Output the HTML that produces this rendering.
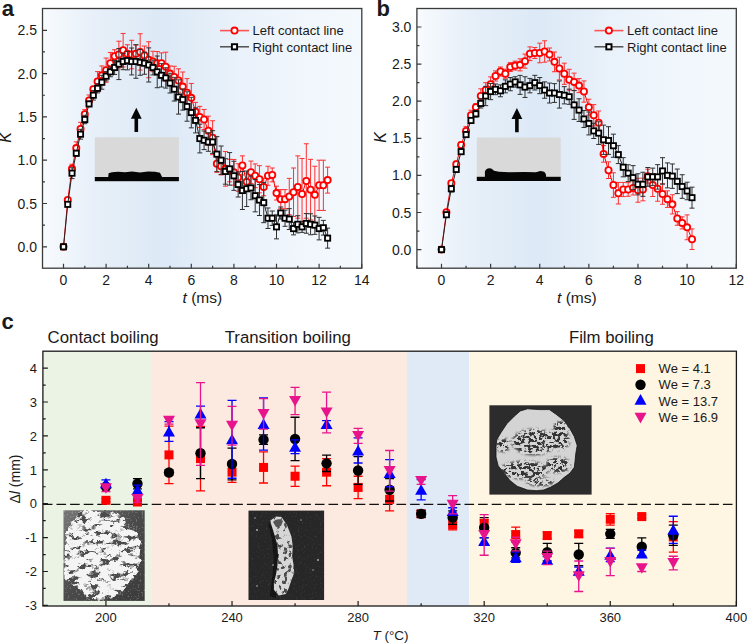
<!DOCTYPE html>
<html><head><meta charset="utf-8"><style>html,body{margin:0;padding:0;background:#fff;width:747px;height:643px;overflow:hidden}</style></head>
<body>
<svg width="747" height="643" viewBox="0 0 747 643" style="display:block;font-family:'Liberation Sans',sans-serif" fill="#1a1a1a">
<rect width="747" height="643" fill="#fff"/>
<defs><linearGradient id="ga" x1="42.5" y1="0" x2="361.8" y2="0" gradientUnits="userSpaceOnUse"><stop offset="0" stop-color="#f8fbfe"/><stop offset="0.15" stop-color="#e8f0f9"/><stop offset="0.38" stop-color="#dce9f6"/><stop offset="0.6" stop-color="#e9f1fa"/><stop offset="0.8" stop-color="#f0f6fc"/><stop offset="1" stop-color="#f4f9fd"/></linearGradient></defs>
<rect x="42.5" y="8.5" width="319.3" height="259.7" fill="url(#ga)"/>
<rect x="94.8" y="137.3" width="84.10000000000001" height="43.89999999999998" fill="#d9d9d9"/>
<rect x="94.8" y="177.0" width="84.10000000000001" height="4.2" fill="#050505"/>
<path d="M108.2 177.5 L108.6 173.2 L112 172.2 L118 171.8 L125 172.3 L132 171.6 L140 172.4 L148 171.5 L155 171.8 L160 172.8 L162.3 177.5Z" fill="#050505"/>
<path d="M136.3 107.7L141.70000000000002 118.7H138.10000000000002V132.0H134.5V118.7H130.9Z" fill="#050505"/>
<path d="M72.02 164.29V173.43M69.52 164.29h5M69.52 173.43h5M76.28 141.84V154.31M73.78 141.84h5M73.78 154.31h5M80.54 122.34V135.71M78.04 122.34h5M78.04 135.71h5M84.80 109.65V118.95M82.30 109.65h5M82.30 118.95h5M89.06 94.97V105.92M86.56 94.97h5M86.56 105.92h5M93.32 86.33V92.05M90.82 86.33h5M90.82 92.05h5M97.58 71.60V91.19M95.08 71.60h5M95.08 91.19h5M101.84 65.96V84.71M99.34 65.96h5M99.34 84.71h5M106.10 58.07V82.21M103.60 58.07h5M103.60 82.21h5M110.36 52.47V73.94M107.86 52.47h5M107.86 73.94h5M114.62 49.73V62.83M112.12 49.73h5M112.12 62.83h5M118.88 41.21V67.89M116.38 41.21h5M116.38 67.89h5M123.14 33.45V66.98M120.64 33.45h5M120.64 66.98h5M127.40 44.75V62.62M124.90 44.75h5M124.90 62.62h5M131.66 40.29V68.81M129.16 40.29h5M129.16 68.81h5M135.92 45.02V62.34M133.42 45.02h5M133.42 62.34h5M140.18 33.76V70.14M137.68 33.76h5M137.68 70.14h5M144.44 46.04V64.79M141.94 46.04h5M141.94 64.79h5M148.70 41.77V77.72M146.20 41.77h5M146.20 77.72h5M152.96 51.25V71.70M150.46 51.25h5M150.46 71.70h5M157.22 51.55V74.87M154.72 51.55h5M154.72 74.87h5M161.48 52.89V73.52M158.98 52.89h5M158.98 73.52h5M165.74 52.20V81.15M163.24 52.20h5M163.24 81.15h5M170.00 65.97V81.23M167.50 65.97h5M167.50 81.23h5M174.26 66.25V87.88M171.76 66.25h5M171.76 87.88h5M178.52 68.84V92.21M176.02 68.84h5M176.02 92.21h5M182.78 72.01V101.17M180.28 72.01h5M180.28 101.17h5M187.04 78.63V106.67M184.54 78.63h5M184.54 106.67h5M191.30 83.44V112.26M188.80 83.44h5M188.80 112.26h5M195.56 102.36V121.04M193.06 102.36h5M193.06 121.04h5M199.82 106.38V127.42M197.32 106.38h5M197.32 127.42h5M204.08 109.46V129.53M201.58 109.46h5M201.58 129.53h5M208.34 116.17V145.34M205.84 116.17h5M205.84 145.34h5M212.60 120.73V154.64M210.10 120.73h5M210.10 154.64h5M216.86 155.00V172.32M214.36 155.00h5M214.36 172.32h5M221.12 157.60V174.92M218.62 157.60h5M218.62 174.92h5M225.38 151.54V186.18M222.88 151.54h5M222.88 186.18h5M229.64 159.33V181.85M227.14 159.33h5M227.14 181.85h5M233.90 159.46V185.18M231.40 159.46h5M231.40 185.18h5M238.16 163.76V191.28M235.66 163.76h5M235.66 191.28h5M242.42 155.87V174.92M239.92 155.87h5M239.92 174.92h5M246.68 173.15V190.55M244.18 173.15h5M244.18 190.55h5M250.94 161.07V183.58M248.44 161.07h5M248.44 183.58h5M255.20 163.93V187.65M252.70 163.93h5M252.70 187.65h5M259.46 165.69V192.82M256.96 165.69h5M256.96 192.82h5M263.72 178.39V195.71M261.22 178.39h5M261.22 195.71h5M267.98 166.26V185.31M265.48 166.26h5M265.48 185.31h5M272.24 167.99V181.85M269.74 167.99h5M269.74 181.85h5M276.50 186.18V200.04M274.00 186.18h5M274.00 200.04h5M280.76 189.64V208.70M278.26 189.64h5M278.26 208.70h5M285.02 189.64V208.70M282.52 189.64h5M282.52 208.70h5M289.28 178.39V214.76M286.78 178.39h5M286.78 214.76h5M293.54 167.99V216.49M291.04 167.99h5M291.04 216.49h5M297.80 155.87V218.22M295.30 155.87h5M295.30 218.22h5M302.06 158.47V229.48M299.56 158.47h5M299.56 229.48h5M306.32 143.75V218.22M303.82 143.75h5M303.82 218.22h5M310.58 159.33V219.95M308.08 159.33h5M308.08 219.95h5M314.84 166.26V223.42M312.34 166.26h5M312.34 223.42h5M319.10 160.20V210.43M316.60 160.20h5M316.60 210.43h5M323.36 160.20V210.43M320.86 160.20h5M320.86 210.43h5M327.62 167.13V193.11M325.12 167.13h5M325.12 193.11h5" stroke="#ff3030" stroke-width="1" fill="none"/>
<polyline points="63.50,246.80 67.76,200.04 72.02,168.86 76.28,148.08 80.54,129.02 84.80,114.30 89.06,100.45 93.32,89.19 97.58,81.39 101.84,75.33 106.10,70.14 110.36,63.21 114.62,56.28 118.88,54.55 123.14,50.22 127.40,53.68 131.66,54.55 135.92,53.68 140.18,51.95 144.44,55.41 148.70,59.74 152.96,61.48 157.22,63.21 161.48,63.21 165.74,66.67 170.00,73.60 174.26,77.06 178.52,80.53 182.78,86.59 187.04,92.65 191.30,97.85 195.56,111.70 199.82,116.90 204.08,119.50 208.34,130.76 212.60,137.68 216.86,163.66 221.12,166.26 225.38,168.86 229.64,170.59 233.90,172.32 238.16,177.52 242.42,165.40 246.68,181.85 250.94,172.32 255.20,175.79 259.46,179.25 263.72,187.05 267.98,175.79 272.24,174.92 276.50,193.11 280.76,199.17 285.02,199.17 289.28,196.57 293.54,192.24 297.80,187.05 302.06,193.97 306.32,180.98 310.58,189.64 314.84,194.84 319.10,185.31 323.36,185.31 327.62,180.12" fill="none" stroke="#ff0000" stroke-width="1"/>
<circle cx="63.50" cy="246.80" r="3.1" fill="#fff" stroke="#ff0000" stroke-width="1.8"/>
<circle cx="67.76" cy="200.04" r="3.1" fill="#fff" stroke="#ff0000" stroke-width="1.8"/>
<circle cx="72.02" cy="168.86" r="3.1" fill="#fff" stroke="#ff0000" stroke-width="1.8"/>
<circle cx="76.28" cy="148.08" r="3.1" fill="#fff" stroke="#ff0000" stroke-width="1.8"/>
<circle cx="80.54" cy="129.02" r="3.1" fill="#fff" stroke="#ff0000" stroke-width="1.8"/>
<circle cx="84.80" cy="114.30" r="3.1" fill="#fff" stroke="#ff0000" stroke-width="1.8"/>
<circle cx="89.06" cy="100.45" r="3.1" fill="#fff" stroke="#ff0000" stroke-width="1.8"/>
<circle cx="93.32" cy="89.19" r="3.1" fill="#fff" stroke="#ff0000" stroke-width="1.8"/>
<circle cx="97.58" cy="81.39" r="3.1" fill="#fff" stroke="#ff0000" stroke-width="1.8"/>
<circle cx="101.84" cy="75.33" r="3.1" fill="#fff" stroke="#ff0000" stroke-width="1.8"/>
<circle cx="106.10" cy="70.14" r="3.1" fill="#fff" stroke="#ff0000" stroke-width="1.8"/>
<circle cx="110.36" cy="63.21" r="3.1" fill="#fff" stroke="#ff0000" stroke-width="1.8"/>
<circle cx="114.62" cy="56.28" r="3.1" fill="#fff" stroke="#ff0000" stroke-width="1.8"/>
<circle cx="118.88" cy="54.55" r="3.1" fill="#fff" stroke="#ff0000" stroke-width="1.8"/>
<circle cx="123.14" cy="50.22" r="3.1" fill="#fff" stroke="#ff0000" stroke-width="1.8"/>
<circle cx="127.40" cy="53.68" r="3.1" fill="#fff" stroke="#ff0000" stroke-width="1.8"/>
<circle cx="131.66" cy="54.55" r="3.1" fill="#fff" stroke="#ff0000" stroke-width="1.8"/>
<circle cx="135.92" cy="53.68" r="3.1" fill="#fff" stroke="#ff0000" stroke-width="1.8"/>
<circle cx="140.18" cy="51.95" r="3.1" fill="#fff" stroke="#ff0000" stroke-width="1.8"/>
<circle cx="144.44" cy="55.41" r="3.1" fill="#fff" stroke="#ff0000" stroke-width="1.8"/>
<circle cx="148.70" cy="59.74" r="3.1" fill="#fff" stroke="#ff0000" stroke-width="1.8"/>
<circle cx="152.96" cy="61.48" r="3.1" fill="#fff" stroke="#ff0000" stroke-width="1.8"/>
<circle cx="157.22" cy="63.21" r="3.1" fill="#fff" stroke="#ff0000" stroke-width="1.8"/>
<circle cx="161.48" cy="63.21" r="3.1" fill="#fff" stroke="#ff0000" stroke-width="1.8"/>
<circle cx="165.74" cy="66.67" r="3.1" fill="#fff" stroke="#ff0000" stroke-width="1.8"/>
<circle cx="170.00" cy="73.60" r="3.1" fill="#fff" stroke="#ff0000" stroke-width="1.8"/>
<circle cx="174.26" cy="77.06" r="3.1" fill="#fff" stroke="#ff0000" stroke-width="1.8"/>
<circle cx="178.52" cy="80.53" r="3.1" fill="#fff" stroke="#ff0000" stroke-width="1.8"/>
<circle cx="182.78" cy="86.59" r="3.1" fill="#fff" stroke="#ff0000" stroke-width="1.8"/>
<circle cx="187.04" cy="92.65" r="3.1" fill="#fff" stroke="#ff0000" stroke-width="1.8"/>
<circle cx="191.30" cy="97.85" r="3.1" fill="#fff" stroke="#ff0000" stroke-width="1.8"/>
<circle cx="195.56" cy="111.70" r="3.1" fill="#fff" stroke="#ff0000" stroke-width="1.8"/>
<circle cx="199.82" cy="116.90" r="3.1" fill="#fff" stroke="#ff0000" stroke-width="1.8"/>
<circle cx="204.08" cy="119.50" r="3.1" fill="#fff" stroke="#ff0000" stroke-width="1.8"/>
<circle cx="208.34" cy="130.76" r="3.1" fill="#fff" stroke="#ff0000" stroke-width="1.8"/>
<circle cx="212.60" cy="137.68" r="3.1" fill="#fff" stroke="#ff0000" stroke-width="1.8"/>
<circle cx="216.86" cy="163.66" r="3.1" fill="#fff" stroke="#ff0000" stroke-width="1.8"/>
<circle cx="221.12" cy="166.26" r="3.1" fill="#fff" stroke="#ff0000" stroke-width="1.8"/>
<circle cx="225.38" cy="168.86" r="3.1" fill="#fff" stroke="#ff0000" stroke-width="1.8"/>
<circle cx="229.64" cy="170.59" r="3.1" fill="#fff" stroke="#ff0000" stroke-width="1.8"/>
<circle cx="233.90" cy="172.32" r="3.1" fill="#fff" stroke="#ff0000" stroke-width="1.8"/>
<circle cx="238.16" cy="177.52" r="3.1" fill="#fff" stroke="#ff0000" stroke-width="1.8"/>
<circle cx="242.42" cy="165.40" r="3.1" fill="#fff" stroke="#ff0000" stroke-width="1.8"/>
<circle cx="246.68" cy="181.85" r="3.1" fill="#fff" stroke="#ff0000" stroke-width="1.8"/>
<circle cx="250.94" cy="172.32" r="3.1" fill="#fff" stroke="#ff0000" stroke-width="1.8"/>
<circle cx="255.20" cy="175.79" r="3.1" fill="#fff" stroke="#ff0000" stroke-width="1.8"/>
<circle cx="259.46" cy="179.25" r="3.1" fill="#fff" stroke="#ff0000" stroke-width="1.8"/>
<circle cx="263.72" cy="187.05" r="3.1" fill="#fff" stroke="#ff0000" stroke-width="1.8"/>
<circle cx="267.98" cy="175.79" r="3.1" fill="#fff" stroke="#ff0000" stroke-width="1.8"/>
<circle cx="272.24" cy="174.92" r="3.1" fill="#fff" stroke="#ff0000" stroke-width="1.8"/>
<circle cx="276.50" cy="193.11" r="3.1" fill="#fff" stroke="#ff0000" stroke-width="1.8"/>
<circle cx="280.76" cy="199.17" r="3.1" fill="#fff" stroke="#ff0000" stroke-width="1.8"/>
<circle cx="285.02" cy="199.17" r="3.1" fill="#fff" stroke="#ff0000" stroke-width="1.8"/>
<circle cx="289.28" cy="196.57" r="3.1" fill="#fff" stroke="#ff0000" stroke-width="1.8"/>
<circle cx="293.54" cy="192.24" r="3.1" fill="#fff" stroke="#ff0000" stroke-width="1.8"/>
<circle cx="297.80" cy="187.05" r="3.1" fill="#fff" stroke="#ff0000" stroke-width="1.8"/>
<circle cx="302.06" cy="193.97" r="3.1" fill="#fff" stroke="#ff0000" stroke-width="1.8"/>
<circle cx="306.32" cy="180.98" r="3.1" fill="#fff" stroke="#ff0000" stroke-width="1.8"/>
<circle cx="310.58" cy="189.64" r="3.1" fill="#fff" stroke="#ff0000" stroke-width="1.8"/>
<circle cx="314.84" cy="194.84" r="3.1" fill="#fff" stroke="#ff0000" stroke-width="1.8"/>
<circle cx="319.10" cy="185.31" r="3.1" fill="#fff" stroke="#ff0000" stroke-width="1.8"/>
<circle cx="323.36" cy="185.31" r="3.1" fill="#fff" stroke="#ff0000" stroke-width="1.8"/>
<circle cx="327.62" cy="180.12" r="3.1" fill="#fff" stroke="#ff0000" stroke-width="1.8"/>
<path d="M72.02 167.77V178.61M69.52 167.77h5M69.52 178.61h5M76.28 150.36V156.18M73.78 150.36h5M73.78 156.18h5M80.54 129.30V139.14M78.04 129.30h5M78.04 139.14h5M84.80 115.32V123.68M82.30 115.32h5M82.30 123.68h5M89.06 101.06V106.76M86.56 101.06h5M86.56 106.76h5M93.32 90.45V100.05M90.82 90.45h5M90.82 100.05h5M97.58 83.76V92.88M95.08 83.76h5M95.08 92.88h5M101.84 75.30V89.22M99.34 75.30h5M99.34 89.22h5M106.10 71.44V80.95M103.60 71.44h5M103.60 80.95h5M110.36 66.99V76.75M107.86 66.99h5M107.86 76.75h5M114.62 60.63V74.44M112.12 60.63h5M112.12 74.44h5M118.88 48.55V79.59M116.38 48.55h5M116.38 79.59h5M123.14 53.26V69.69M120.64 53.26h5M120.64 69.69h5M127.40 51.36V69.86M124.90 51.36h5M124.90 69.86h5M131.66 48.03V74.92M129.16 48.03h5M129.16 74.92h5M135.92 44.70V78.25M133.42 44.70h5M133.42 78.25h5M140.18 49.42V75.27M137.68 49.42h5M137.68 75.27h5M144.44 52.16V74.26M141.94 52.16h5M141.94 74.26h5M148.70 47.87V82.01M146.20 47.87h5M146.20 82.01h5M152.96 60.13V74.95M150.46 60.13h5M150.46 74.95h5M157.22 56.02V87.72M154.72 56.02h5M154.72 87.72h5M161.48 63.66V87.00M158.98 63.66h5M158.98 87.00h5M165.74 67.77V88.09M163.24 67.77h5M163.24 88.09h5M170.00 73.24V93.01M167.50 73.24h5M167.50 93.01h5M174.26 77.32V101.05M171.76 77.32h5M171.76 101.05h5M178.52 79.84V114.12M176.02 79.84h5M176.02 114.12h5M182.78 89.04V110.12M180.28 89.04h5M180.28 110.12h5M187.04 91.80V121.21M184.54 91.80h5M184.54 121.21h5M191.30 97.27V127.87M188.80 97.27h5M188.80 127.87h5M195.56 107.83V132.89M193.06 107.83h5M193.06 132.89h5M199.82 124.20V152.90M197.32 124.20h5M197.32 152.90h5M204.08 130.97V149.59M201.58 130.97h5M201.58 149.59h5M208.34 132.73V151.29M205.84 132.73h5M205.84 151.29h5M212.60 130.68V153.35M210.10 130.68h5M210.10 153.35h5M216.86 136.64V171.64M214.36 136.64h5M214.36 171.64h5M221.12 145.99V174.41M218.62 145.99h5M218.62 174.41h5M225.38 158.72V184.20M222.88 158.72h5M222.88 184.20h5M229.64 152.59V185.13M227.14 152.59h5M227.14 185.13h5M233.90 161.24V190.33M231.40 161.24h5M231.40 190.33h5M238.16 171.89V197.00M235.66 171.89h5M235.66 197.00h5M242.42 171.53V209.49M239.92 171.53h5M239.92 209.49h5M246.68 171.04V206.52M244.18 171.04h5M244.18 206.52h5M250.94 176.08V199.74M248.44 176.08h5M248.44 199.74h5M255.20 179.58V211.83M252.70 179.58h5M252.70 211.83h5M259.46 184.55V215.52M256.96 184.55h5M256.96 215.52h5M263.72 182.61V222.66M261.22 182.61h5M261.22 222.66h5M267.98 207.97V228.47M265.48 207.97h5M265.48 228.47h5M272.24 211.03V225.41M269.74 211.03h5M269.74 225.41h5M276.50 214.90V238.87M274.00 214.90h5M274.00 238.87h5M280.76 207.01V219.04M278.26 207.01h5M278.26 219.04h5M285.02 210.13V226.31M282.52 210.13h5M282.52 226.31h5M289.28 208.65V229.53M286.78 208.65h5M286.78 229.53h5M293.54 222.37V234.86M291.04 222.37h5M291.04 234.86h5M297.80 215.70V232.87M295.30 215.70h5M295.30 232.87h5M302.06 221.41V232.35M299.56 221.41h5M299.56 232.35h5M306.32 213.59V233.24M303.82 213.59h5M303.82 233.24h5M310.58 213.79V234.78M308.08 213.79h5M308.08 234.78h5M314.84 215.98V234.32M312.34 215.98h5M312.34 234.32h5M319.10 217.35V239.88M316.60 217.35h5M316.60 239.88h5M323.36 220.38V235.12M320.86 220.38h5M320.86 235.12h5M327.62 228.13V248.15M325.12 228.13h5M325.12 248.15h5" stroke="#303030" stroke-width="1" fill="none"/>
<polyline points="63.50,246.80 67.76,204.37 72.02,173.19 76.28,153.27 80.54,134.22 84.80,119.50 89.06,103.91 93.32,95.25 97.58,88.32 101.84,82.26 106.10,76.20 110.36,71.87 114.62,67.54 118.88,64.07 123.14,61.48 127.40,60.61 131.66,61.48 135.92,61.48 140.18,62.34 144.44,63.21 148.70,64.94 152.96,67.54 157.22,71.87 161.48,75.33 165.74,77.93 170.00,83.13 174.26,89.19 178.52,96.98 182.78,99.58 187.04,106.51 191.30,112.57 195.56,120.36 199.82,138.55 204.08,140.28 208.34,142.01 212.60,142.01 216.86,154.14 221.12,160.20 225.38,171.46 229.64,168.86 233.90,175.79 238.16,184.45 242.42,190.51 246.68,188.78 250.94,187.91 255.20,195.71 259.46,200.04 263.72,202.63 267.98,218.22 272.24,218.22 276.50,226.88 280.76,213.03 285.02,218.22 289.28,219.09 293.54,228.61 297.80,224.28 302.06,226.88 306.32,223.42 310.58,224.28 314.84,225.15 319.10,228.61 323.36,227.75 327.62,238.14" fill="none" stroke="#222" stroke-width="1"/>
<rect x="60.90" y="244.20" width="5.2" height="5.2" fill="#fff" stroke="#000" stroke-width="1.8"/>
<rect x="65.16" y="201.77" width="5.2" height="5.2" fill="#fff" stroke="#000" stroke-width="1.8"/>
<rect x="69.42" y="170.59" width="5.2" height="5.2" fill="#fff" stroke="#000" stroke-width="1.8"/>
<rect x="73.68" y="150.67" width="5.2" height="5.2" fill="#fff" stroke="#000" stroke-width="1.8"/>
<rect x="77.94" y="131.62" width="5.2" height="5.2" fill="#fff" stroke="#000" stroke-width="1.8"/>
<rect x="82.20" y="116.90" width="5.2" height="5.2" fill="#fff" stroke="#000" stroke-width="1.8"/>
<rect x="86.46" y="101.31" width="5.2" height="5.2" fill="#fff" stroke="#000" stroke-width="1.8"/>
<rect x="90.72" y="92.65" width="5.2" height="5.2" fill="#fff" stroke="#000" stroke-width="1.8"/>
<rect x="94.98" y="85.72" width="5.2" height="5.2" fill="#fff" stroke="#000" stroke-width="1.8"/>
<rect x="99.24" y="79.66" width="5.2" height="5.2" fill="#fff" stroke="#000" stroke-width="1.8"/>
<rect x="103.50" y="73.60" width="5.2" height="5.2" fill="#fff" stroke="#000" stroke-width="1.8"/>
<rect x="107.76" y="69.27" width="5.2" height="5.2" fill="#fff" stroke="#000" stroke-width="1.8"/>
<rect x="112.02" y="64.94" width="5.2" height="5.2" fill="#fff" stroke="#000" stroke-width="1.8"/>
<rect x="116.28" y="61.47" width="5.2" height="5.2" fill="#fff" stroke="#000" stroke-width="1.8"/>
<rect x="120.54" y="58.88" width="5.2" height="5.2" fill="#fff" stroke="#000" stroke-width="1.8"/>
<rect x="124.80" y="58.01" width="5.2" height="5.2" fill="#fff" stroke="#000" stroke-width="1.8"/>
<rect x="129.06" y="58.88" width="5.2" height="5.2" fill="#fff" stroke="#000" stroke-width="1.8"/>
<rect x="133.32" y="58.88" width="5.2" height="5.2" fill="#fff" stroke="#000" stroke-width="1.8"/>
<rect x="137.58" y="59.74" width="5.2" height="5.2" fill="#fff" stroke="#000" stroke-width="1.8"/>
<rect x="141.84" y="60.61" width="5.2" height="5.2" fill="#fff" stroke="#000" stroke-width="1.8"/>
<rect x="146.10" y="62.34" width="5.2" height="5.2" fill="#fff" stroke="#000" stroke-width="1.8"/>
<rect x="150.36" y="64.94" width="5.2" height="5.2" fill="#fff" stroke="#000" stroke-width="1.8"/>
<rect x="154.62" y="69.27" width="5.2" height="5.2" fill="#fff" stroke="#000" stroke-width="1.8"/>
<rect x="158.88" y="72.73" width="5.2" height="5.2" fill="#fff" stroke="#000" stroke-width="1.8"/>
<rect x="163.14" y="75.33" width="5.2" height="5.2" fill="#fff" stroke="#000" stroke-width="1.8"/>
<rect x="167.40" y="80.53" width="5.2" height="5.2" fill="#fff" stroke="#000" stroke-width="1.8"/>
<rect x="171.66" y="86.59" width="5.2" height="5.2" fill="#fff" stroke="#000" stroke-width="1.8"/>
<rect x="175.92" y="94.38" width="5.2" height="5.2" fill="#fff" stroke="#000" stroke-width="1.8"/>
<rect x="180.18" y="96.98" width="5.2" height="5.2" fill="#fff" stroke="#000" stroke-width="1.8"/>
<rect x="184.44" y="103.91" width="5.2" height="5.2" fill="#fff" stroke="#000" stroke-width="1.8"/>
<rect x="188.70" y="109.97" width="5.2" height="5.2" fill="#fff" stroke="#000" stroke-width="1.8"/>
<rect x="192.96" y="117.76" width="5.2" height="5.2" fill="#fff" stroke="#000" stroke-width="1.8"/>
<rect x="197.22" y="135.95" width="5.2" height="5.2" fill="#fff" stroke="#000" stroke-width="1.8"/>
<rect x="201.48" y="137.68" width="5.2" height="5.2" fill="#fff" stroke="#000" stroke-width="1.8"/>
<rect x="205.74" y="139.41" width="5.2" height="5.2" fill="#fff" stroke="#000" stroke-width="1.8"/>
<rect x="210.00" y="139.41" width="5.2" height="5.2" fill="#fff" stroke="#000" stroke-width="1.8"/>
<rect x="214.26" y="151.54" width="5.2" height="5.2" fill="#fff" stroke="#000" stroke-width="1.8"/>
<rect x="218.52" y="157.60" width="5.2" height="5.2" fill="#fff" stroke="#000" stroke-width="1.8"/>
<rect x="222.78" y="168.86" width="5.2" height="5.2" fill="#fff" stroke="#000" stroke-width="1.8"/>
<rect x="227.04" y="166.26" width="5.2" height="5.2" fill="#fff" stroke="#000" stroke-width="1.8"/>
<rect x="231.30" y="173.19" width="5.2" height="5.2" fill="#fff" stroke="#000" stroke-width="1.8"/>
<rect x="235.56" y="181.85" width="5.2" height="5.2" fill="#fff" stroke="#000" stroke-width="1.8"/>
<rect x="239.82" y="187.91" width="5.2" height="5.2" fill="#fff" stroke="#000" stroke-width="1.8"/>
<rect x="244.08" y="186.18" width="5.2" height="5.2" fill="#fff" stroke="#000" stroke-width="1.8"/>
<rect x="248.34" y="185.31" width="5.2" height="5.2" fill="#fff" stroke="#000" stroke-width="1.8"/>
<rect x="252.60" y="193.11" width="5.2" height="5.2" fill="#fff" stroke="#000" stroke-width="1.8"/>
<rect x="256.86" y="197.44" width="5.2" height="5.2" fill="#fff" stroke="#000" stroke-width="1.8"/>
<rect x="261.12" y="200.03" width="5.2" height="5.2" fill="#fff" stroke="#000" stroke-width="1.8"/>
<rect x="265.38" y="215.62" width="5.2" height="5.2" fill="#fff" stroke="#000" stroke-width="1.8"/>
<rect x="269.64" y="215.62" width="5.2" height="5.2" fill="#fff" stroke="#000" stroke-width="1.8"/>
<rect x="273.90" y="224.28" width="5.2" height="5.2" fill="#fff" stroke="#000" stroke-width="1.8"/>
<rect x="278.16" y="210.43" width="5.2" height="5.2" fill="#fff" stroke="#000" stroke-width="1.8"/>
<rect x="282.42" y="215.62" width="5.2" height="5.2" fill="#fff" stroke="#000" stroke-width="1.8"/>
<rect x="286.68" y="216.49" width="5.2" height="5.2" fill="#fff" stroke="#000" stroke-width="1.8"/>
<rect x="290.94" y="226.01" width="5.2" height="5.2" fill="#fff" stroke="#000" stroke-width="1.8"/>
<rect x="295.20" y="221.68" width="5.2" height="5.2" fill="#fff" stroke="#000" stroke-width="1.8"/>
<rect x="299.46" y="224.28" width="5.2" height="5.2" fill="#fff" stroke="#000" stroke-width="1.8"/>
<rect x="303.72" y="220.82" width="5.2" height="5.2" fill="#fff" stroke="#000" stroke-width="1.8"/>
<rect x="307.98" y="221.68" width="5.2" height="5.2" fill="#fff" stroke="#000" stroke-width="1.8"/>
<rect x="312.24" y="222.55" width="5.2" height="5.2" fill="#fff" stroke="#000" stroke-width="1.8"/>
<rect x="316.50" y="226.01" width="5.2" height="5.2" fill="#fff" stroke="#000" stroke-width="1.8"/>
<rect x="320.76" y="225.15" width="5.2" height="5.2" fill="#fff" stroke="#000" stroke-width="1.8"/>
<rect x="325.02" y="235.54" width="5.2" height="5.2" fill="#fff" stroke="#000" stroke-width="1.8"/>
<rect x="42.5" y="8.5" width="319.3" height="259.7" fill="none" stroke="#3a3a3a" stroke-width="1.3"/>
<path d="M63.50 268.2v-4.5M106.10 268.2v-4.5M148.70 268.2v-4.5M191.30 268.2v-4.5M233.90 268.2v-4.5M276.50 268.2v-4.5M319.10 268.2v-4.5M361.70 268.2v-4.5M84.80 268.2v-2.5M127.40 268.2v-2.5M170.00 268.2v-2.5M212.60 268.2v-2.5M255.20 268.2v-2.5M297.80 268.2v-2.5M340.40 268.2v-2.5M42.5 246.80h4.5M42.5 203.50h4.5M42.5 160.20h4.5M42.5 116.90h4.5M42.5 73.60h4.5M42.5 30.30h4.5M42.5 225.15h2.5M42.5 181.85h2.5M42.5 138.55h2.5M42.5 95.25h2.5M42.5 51.95h2.5" stroke="#3a3a3a" stroke-width="1.2" fill="none"/>
<text x="63.50" y="284.8" font-size="14" text-anchor="middle" >0</text>
<text x="106.10" y="284.8" font-size="14" text-anchor="middle" >2</text>
<text x="148.70" y="284.8" font-size="14" text-anchor="middle" >4</text>
<text x="191.30" y="284.8" font-size="14" text-anchor="middle" >6</text>
<text x="233.90" y="284.8" font-size="14" text-anchor="middle" >8</text>
<text x="276.50" y="284.8" font-size="14" text-anchor="middle" >10</text>
<text x="319.10" y="284.8" font-size="14" text-anchor="middle" >12</text>
<text x="361.70" y="284.8" font-size="14" text-anchor="middle" >14</text>
<text x="37.00" y="251.80" font-size="14" text-anchor="end" >0.0</text>
<text x="37.00" y="208.50" font-size="14" text-anchor="end" >0.5</text>
<text x="37.00" y="165.20" font-size="14" text-anchor="end" >1.0</text>
<text x="37.00" y="121.90" font-size="14" text-anchor="end" >1.5</text>
<text x="37.00" y="78.60" font-size="14" text-anchor="end" >2.0</text>
<text x="37.00" y="35.30" font-size="14" text-anchor="end" >2.5</text>
<line x1="220" y1="30.6" x2="249" y2="30.6" stroke="#ff5555" stroke-width="1.6"/>
<circle cx="234.5" cy="30.6" r="3.1" fill="#fff" stroke="#ff0000" stroke-width="1.8"/>
<line x1="220" y1="46.8" x2="249" y2="46.8" stroke="#444" stroke-width="1.4"/>
<rect x="231.9" y="44.199999999999996" width="5.2" height="5.2" fill="#fff" stroke="#000" stroke-width="1.9"/>
<text x="252.6" y="35.3" font-size="13" text-anchor="start" >Left contact line</text>
<text x="252.6" y="51.8" font-size="13" text-anchor="start" >Right contact line</text>
<text x="11.4" y="137.7" font-size="16" text-anchor="middle" font-style="italic" transform="rotate(-90 11.2 137.7)">K</text>
<text x="202.4" y="302.7" font-size="15.5" text-anchor="middle"><tspan font-style="italic">t</tspan> (ms)</text>
<text x="1.8" y="16" font-size="22" font-weight="bold">a</text>
<defs><linearGradient id="gb" x1="416.9" y1="0" x2="736.3" y2="0" gradientUnits="userSpaceOnUse"><stop offset="0" stop-color="#f8fbfe"/><stop offset="0.15" stop-color="#e8f0f9"/><stop offset="0.38" stop-color="#dce9f6"/><stop offset="0.6" stop-color="#e9f1fa"/><stop offset="0.8" stop-color="#f0f6fc"/><stop offset="1" stop-color="#f4f9fd"/></linearGradient></defs>
<rect x="416.9" y="8.5" width="319.4" height="259.7" fill="url(#gb)"/>
<rect x="476.8" y="137.5" width="83.90000000000003" height="43.5" fill="#d9d9d9"/>
<rect x="476.8" y="176.8" width="83.90000000000003" height="4.2" fill="#050505"/>
<path d="M484.9 177.5 L484.9 171.8 C485.5 169.5 487 168.4 489.5 168.3 C492 168.4 493 170 494 170.8 L499 171.8 L509.3 172.3 L524.1 172 L535.9 172.3 L540.3 171.1 L543.3 171.6 C545.5 172.5 546.2 174 546.2 177.5Z" fill="#050505"/>
<path d="M516.9 108L522.3 119H518.6999999999999V132.3H515.1V119H511.5Z" fill="#050505"/>
<path d="M451.32 180.88V185.50M448.82 180.88h5M448.82 185.50h5M456.24 161.21V167.33M453.74 161.21h5M453.74 167.33h5M461.15 141.98V147.97M458.65 141.98h5M458.65 147.97h5M466.06 126.60V135.16M463.56 126.60h5M463.56 135.16h5M470.97 110.23V120.36M468.47 110.23h5M468.47 120.36h5M475.88 103.58V110.69M473.38 103.58h5M473.38 110.69h5M480.80 88.82V103.19M478.30 88.82h5M478.30 103.19h5M485.71 82.69V97.45M483.21 82.69h5M483.21 97.45h5M490.62 76.88V91.39M488.12 76.88h5M488.12 91.39h5M495.53 70.91V81.03M493.03 70.91h5M493.03 81.03h5M500.44 66.99V76.05M497.94 66.99h5M497.94 76.05h5M505.36 69.19V78.30M502.86 69.19h5M502.86 78.30h5M510.27 62.63V71.51M507.77 62.63h5M507.77 71.51h5M515.18 61.12V70.05M512.68 61.12h5M512.68 70.05h5M520.09 58.82V70.87M517.59 58.82h5M517.59 70.87h5M525.00 54.08V68.18M522.50 54.08h5M522.50 68.18h5M529.92 46.88V60.54M527.42 46.88h5M527.42 60.54h5M534.83 47.48V58.46M532.33 47.48h5M532.33 58.46h5M539.74 43.16V62.78M537.24 43.16h5M537.24 62.78h5M544.65 40.80V62.17M542.15 40.80h5M542.15 62.17h5M549.56 48.01V60.89M547.06 48.01h5M547.06 60.89h5M554.48 52.02V71.73M551.98 52.02h5M551.98 71.73h5M559.39 57.22V79.89M556.89 57.22h5M556.89 79.89h5M564.30 63.17V84.33M561.80 63.17h5M561.80 84.33h5M569.21 69.29V90.07M566.71 69.29h5M566.71 90.07h5M574.12 73.13V90.68M571.62 73.13h5M571.62 90.68h5M579.04 78.62V92.61M576.54 78.62h5M576.54 92.61h5M583.95 80.93V102.17M581.45 80.93h5M581.45 102.17h5M588.86 99.23V115.05M586.36 99.23h5M586.36 115.05h5M593.77 104.61V125.99M591.27 104.61h5M591.27 125.99h5M598.68 111.01V134.42M596.18 111.01h5M596.18 134.42h5M603.60 145.60V162.17M601.10 145.60h5M601.10 162.17h5M608.51 161.89V178.52M606.01 161.89h5M606.01 178.52h5M613.42 172.79V197.30M610.92 172.79h5M610.92 197.30h5M618.33 182.43V203.98M615.83 182.43h5M615.83 203.98h5M623.24 182.43V196.57M620.74 182.43h5M620.74 196.57h5M628.16 182.71V196.28M625.66 182.71h5M625.66 196.28h5M633.07 181.07V194.96M630.57 181.07h5M630.57 194.96h5M637.98 178.26V202.22M635.48 178.26h5M635.48 202.22h5M642.89 178.18V200.82M640.39 178.18h5M640.39 200.82h5M647.80 169.23V183.05M645.30 169.23h5M645.30 183.05h5M652.72 173.59V196.50M650.22 173.59h5M650.22 196.50h5M657.63 176.27V201.24M655.13 176.27h5M655.13 201.24h5M662.54 183.62V204.28M660.04 183.62h5M660.04 204.28h5M667.45 190.87V207.42M664.95 190.87h5M664.95 207.42h5M672.36 194.74V213.94M669.86 194.74h5M669.86 213.94h5M677.28 211.63V225.25M674.78 211.63h5M674.78 225.25h5M682.19 216.86V228.92M679.69 216.86h5M679.69 228.92h5M687.10 214.92V239.76M684.60 214.92h5M684.60 239.76h5M692.01 228.94V249.49M689.51 228.94h5M689.51 249.49h5" stroke="#ff3030" stroke-width="1" fill="none"/>
<polyline points="441.50,249.60 446.41,212.13 451.32,183.19 456.24,164.27 461.15,144.98 466.06,130.88 470.97,115.30 475.88,107.14 480.80,96.01 485.71,90.07 490.62,84.13 495.53,75.97 500.44,71.52 505.36,73.75 510.27,67.07 515.18,65.58 520.09,64.84 525.00,61.13 529.92,53.71 534.83,52.97 539.74,52.97 544.65,51.49 549.56,54.45 554.48,61.87 559.39,68.55 564.30,73.75 569.21,79.68 574.12,81.91 579.04,85.62 583.95,91.55 588.86,107.14 593.77,115.30 598.68,122.72 603.60,153.88 608.51,170.21 613.42,185.05 618.33,193.21 623.24,189.50 628.16,189.50 633.07,188.01 637.98,190.24 642.89,189.50 647.80,176.14 652.72,185.05 657.63,188.76 662.54,193.95 667.45,199.14 672.36,204.34 677.28,218.44 682.19,222.89 687.10,227.34 692.01,239.21" fill="none" stroke="#ff0000" stroke-width="1"/>
<circle cx="441.50" cy="249.60" r="3.1" fill="#fff" stroke="#ff0000" stroke-width="1.8"/>
<circle cx="446.41" cy="212.13" r="3.1" fill="#fff" stroke="#ff0000" stroke-width="1.8"/>
<circle cx="451.32" cy="183.19" r="3.1" fill="#fff" stroke="#ff0000" stroke-width="1.8"/>
<circle cx="456.24" cy="164.27" r="3.1" fill="#fff" stroke="#ff0000" stroke-width="1.8"/>
<circle cx="461.15" cy="144.98" r="3.1" fill="#fff" stroke="#ff0000" stroke-width="1.8"/>
<circle cx="466.06" cy="130.88" r="3.1" fill="#fff" stroke="#ff0000" stroke-width="1.8"/>
<circle cx="470.97" cy="115.30" r="3.1" fill="#fff" stroke="#ff0000" stroke-width="1.8"/>
<circle cx="475.88" cy="107.14" r="3.1" fill="#fff" stroke="#ff0000" stroke-width="1.8"/>
<circle cx="480.80" cy="96.01" r="3.1" fill="#fff" stroke="#ff0000" stroke-width="1.8"/>
<circle cx="485.71" cy="90.07" r="3.1" fill="#fff" stroke="#ff0000" stroke-width="1.8"/>
<circle cx="490.62" cy="84.13" r="3.1" fill="#fff" stroke="#ff0000" stroke-width="1.8"/>
<circle cx="495.53" cy="75.97" r="3.1" fill="#fff" stroke="#ff0000" stroke-width="1.8"/>
<circle cx="500.44" cy="71.52" r="3.1" fill="#fff" stroke="#ff0000" stroke-width="1.8"/>
<circle cx="505.36" cy="73.75" r="3.1" fill="#fff" stroke="#ff0000" stroke-width="1.8"/>
<circle cx="510.27" cy="67.07" r="3.1" fill="#fff" stroke="#ff0000" stroke-width="1.8"/>
<circle cx="515.18" cy="65.58" r="3.1" fill="#fff" stroke="#ff0000" stroke-width="1.8"/>
<circle cx="520.09" cy="64.84" r="3.1" fill="#fff" stroke="#ff0000" stroke-width="1.8"/>
<circle cx="525.00" cy="61.13" r="3.1" fill="#fff" stroke="#ff0000" stroke-width="1.8"/>
<circle cx="529.92" cy="53.71" r="3.1" fill="#fff" stroke="#ff0000" stroke-width="1.8"/>
<circle cx="534.83" cy="52.97" r="3.1" fill="#fff" stroke="#ff0000" stroke-width="1.8"/>
<circle cx="539.74" cy="52.97" r="3.1" fill="#fff" stroke="#ff0000" stroke-width="1.8"/>
<circle cx="544.65" cy="51.49" r="3.1" fill="#fff" stroke="#ff0000" stroke-width="1.8"/>
<circle cx="549.56" cy="54.45" r="3.1" fill="#fff" stroke="#ff0000" stroke-width="1.8"/>
<circle cx="554.48" cy="61.87" r="3.1" fill="#fff" stroke="#ff0000" stroke-width="1.8"/>
<circle cx="559.39" cy="68.55" r="3.1" fill="#fff" stroke="#ff0000" stroke-width="1.8"/>
<circle cx="564.30" cy="73.75" r="3.1" fill="#fff" stroke="#ff0000" stroke-width="1.8"/>
<circle cx="569.21" cy="79.68" r="3.1" fill="#fff" stroke="#ff0000" stroke-width="1.8"/>
<circle cx="574.12" cy="81.91" r="3.1" fill="#fff" stroke="#ff0000" stroke-width="1.8"/>
<circle cx="579.04" cy="85.62" r="3.1" fill="#fff" stroke="#ff0000" stroke-width="1.8"/>
<circle cx="583.95" cy="91.55" r="3.1" fill="#fff" stroke="#ff0000" stroke-width="1.8"/>
<circle cx="588.86" cy="107.14" r="3.1" fill="#fff" stroke="#ff0000" stroke-width="1.8"/>
<circle cx="593.77" cy="115.30" r="3.1" fill="#fff" stroke="#ff0000" stroke-width="1.8"/>
<circle cx="598.68" cy="122.72" r="3.1" fill="#fff" stroke="#ff0000" stroke-width="1.8"/>
<circle cx="603.60" cy="153.88" r="3.1" fill="#fff" stroke="#ff0000" stroke-width="1.8"/>
<circle cx="608.51" cy="170.21" r="3.1" fill="#fff" stroke="#ff0000" stroke-width="1.8"/>
<circle cx="613.42" cy="185.05" r="3.1" fill="#fff" stroke="#ff0000" stroke-width="1.8"/>
<circle cx="618.33" cy="193.21" r="3.1" fill="#fff" stroke="#ff0000" stroke-width="1.8"/>
<circle cx="623.24" cy="189.50" r="3.1" fill="#fff" stroke="#ff0000" stroke-width="1.8"/>
<circle cx="628.16" cy="189.50" r="3.1" fill="#fff" stroke="#ff0000" stroke-width="1.8"/>
<circle cx="633.07" cy="188.01" r="3.1" fill="#fff" stroke="#ff0000" stroke-width="1.8"/>
<circle cx="637.98" cy="190.24" r="3.1" fill="#fff" stroke="#ff0000" stroke-width="1.8"/>
<circle cx="642.89" cy="189.50" r="3.1" fill="#fff" stroke="#ff0000" stroke-width="1.8"/>
<circle cx="647.80" cy="176.14" r="3.1" fill="#fff" stroke="#ff0000" stroke-width="1.8"/>
<circle cx="652.72" cy="185.05" r="3.1" fill="#fff" stroke="#ff0000" stroke-width="1.8"/>
<circle cx="657.63" cy="188.76" r="3.1" fill="#fff" stroke="#ff0000" stroke-width="1.8"/>
<circle cx="662.54" cy="193.95" r="3.1" fill="#fff" stroke="#ff0000" stroke-width="1.8"/>
<circle cx="667.45" cy="199.14" r="3.1" fill="#fff" stroke="#ff0000" stroke-width="1.8"/>
<circle cx="672.36" cy="204.34" r="3.1" fill="#fff" stroke="#ff0000" stroke-width="1.8"/>
<circle cx="677.28" cy="218.44" r="3.1" fill="#fff" stroke="#ff0000" stroke-width="1.8"/>
<circle cx="682.19" cy="222.89" r="3.1" fill="#fff" stroke="#ff0000" stroke-width="1.8"/>
<circle cx="687.10" cy="227.34" r="3.1" fill="#fff" stroke="#ff0000" stroke-width="1.8"/>
<circle cx="692.01" cy="239.21" r="3.1" fill="#fff" stroke="#ff0000" stroke-width="1.8"/>
<path d="M451.32 185.52V191.99M448.82 185.52h5M448.82 191.99h5M456.24 167.08V171.85M453.74 167.08h5M453.74 171.85h5M461.15 149.43V153.88M458.65 149.43h5M458.65 153.88h5M466.06 131.92V137.26M463.56 131.92h5M463.56 137.26h5M470.97 117.96V123.02M468.47 117.96h5M468.47 123.02h5M475.88 110.51V117.12M473.38 110.51h5M473.38 117.12h5M480.80 98.82V108.03M478.30 98.82h5M478.30 108.03h5M485.71 86.36V105.65M483.21 86.36h5M483.21 105.65h5M490.62 83.46V99.65M488.12 83.46h5M488.12 99.65h5M495.53 83.99V94.66M493.03 83.99h5M493.03 94.66h5M500.44 84.86V96.76M497.94 84.86h5M497.94 96.76h5M505.36 79.85V92.87M502.86 79.85h5M502.86 92.87h5M510.27 77.52V90.75M507.77 77.52h5M507.77 90.75h5M515.18 76.73V87.09M512.68 76.73h5M512.68 87.09h5M520.09 75.38V94.37M517.59 75.38h5M517.59 94.37h5M525.00 76.75V97.45M522.50 76.75h5M522.50 97.45h5M529.92 78.40V92.84M527.42 78.40h5M527.42 92.84h5M534.83 75.33V89.97M532.33 75.33h5M532.33 89.97h5M539.74 77.56V93.68M537.24 77.56h5M537.24 93.68h5M544.65 81.89V98.25M542.15 81.89h5M542.15 98.25h5M549.56 83.08V103.00M547.06 83.08h5M547.06 103.00h5M554.48 83.65V102.42M551.98 83.65h5M551.98 102.42h5M559.39 80.95V108.09M556.89 80.95h5M556.89 108.09h5M564.30 86.65V103.88M561.80 86.65h5M561.80 103.88h5M569.21 89.16V104.34M566.71 89.16h5M566.71 104.34h5M574.12 90.43V119.39M571.62 90.43h5M571.62 119.39h5M579.04 98.76V121.44M576.54 98.76h5M576.54 121.44h5M583.95 110.50V127.52M581.45 110.50h5M581.45 127.52h5M588.86 112.01V134.91M586.36 112.01h5M586.36 134.91h5M593.77 123.26V138.50M591.27 123.26h5M591.27 138.50h5M598.68 121.77V144.44M596.18 121.77h5M596.18 144.44h5M603.60 125.10V154.46M601.10 125.10h5M601.10 154.46h5M608.51 126.70V154.35M606.01 126.70h5M606.01 154.35h5M613.42 134.17V157.27M610.92 134.17h5M610.92 157.27h5M618.33 145.65V163.59M615.83 145.65h5M615.83 163.59h5M623.24 157.64V176.83M620.74 157.64h5M620.74 176.83h5M628.16 164.76V181.59M625.66 164.76h5M625.66 181.59h5M633.07 165.62V189.63M630.57 165.62h5M630.57 189.63h5M637.98 173.72V194.89M635.48 173.72h5M635.48 194.89h5M642.89 172.26V196.35M640.39 172.26h5M640.39 196.35h5M647.80 167.51V186.26M645.30 167.51h5M645.30 186.26h5M652.72 168.14V185.63M650.22 168.14h5M650.22 185.63h5M657.63 164.65V189.12M655.13 164.65h5M655.13 189.12h5M662.54 157.68V184.21M660.04 157.68h5M660.04 184.21h5M667.45 162.92V187.88M664.95 162.92h5M664.95 187.88h5M672.36 163.94V188.35M669.86 163.94h5M669.86 188.35h5M677.28 169.06V193.61M674.78 169.06h5M674.78 193.61h5M682.19 174.72V198.34M679.69 174.72h5M679.69 198.34h5M687.10 182.22V199.75M684.60 182.22h5M684.60 199.75h5M692.01 187.17V208.15M689.51 187.17h5M689.51 208.15h5" stroke="#303030" stroke-width="1" fill="none"/>
<polyline points="441.50,249.60 446.41,214.73 451.32,188.76 456.24,169.46 461.15,151.66 466.06,134.59 470.97,120.49 475.88,113.81 480.80,103.43 485.71,96.01 490.62,91.55 495.53,89.33 500.44,90.81 505.36,86.36 510.27,84.13 515.18,81.91 520.09,84.88 525.00,87.10 529.92,85.62 534.83,82.65 539.74,85.62 544.65,90.07 549.56,93.04 554.48,93.04 559.39,94.52 564.30,95.26 569.21,96.75 574.12,104.91 579.04,110.10 583.95,119.01 588.86,123.46 593.77,130.88 598.68,133.11 603.60,139.78 608.51,140.53 613.42,145.72 618.33,154.62 623.24,167.24 628.16,173.17 633.07,177.63 637.98,184.30 642.89,184.30 647.80,176.88 652.72,176.88 657.63,176.88 662.54,170.95 667.45,175.40 672.36,176.14 677.28,181.34 682.19,186.53 687.10,190.98 692.01,197.66" fill="none" stroke="#222" stroke-width="1"/>
<rect x="438.90" y="247.00" width="5.2" height="5.2" fill="#fff" stroke="#000" stroke-width="1.8"/>
<rect x="443.81" y="212.13" width="5.2" height="5.2" fill="#fff" stroke="#000" stroke-width="1.8"/>
<rect x="448.72" y="186.16" width="5.2" height="5.2" fill="#fff" stroke="#000" stroke-width="1.8"/>
<rect x="453.64" y="166.86" width="5.2" height="5.2" fill="#fff" stroke="#000" stroke-width="1.8"/>
<rect x="458.55" y="149.06" width="5.2" height="5.2" fill="#fff" stroke="#000" stroke-width="1.8"/>
<rect x="463.46" y="131.99" width="5.2" height="5.2" fill="#fff" stroke="#000" stroke-width="1.8"/>
<rect x="468.37" y="117.89" width="5.2" height="5.2" fill="#fff" stroke="#000" stroke-width="1.8"/>
<rect x="473.28" y="111.21" width="5.2" height="5.2" fill="#fff" stroke="#000" stroke-width="1.8"/>
<rect x="478.20" y="100.83" width="5.2" height="5.2" fill="#fff" stroke="#000" stroke-width="1.8"/>
<rect x="483.11" y="93.41" width="5.2" height="5.2" fill="#fff" stroke="#000" stroke-width="1.8"/>
<rect x="488.02" y="88.95" width="5.2" height="5.2" fill="#fff" stroke="#000" stroke-width="1.8"/>
<rect x="492.93" y="86.73" width="5.2" height="5.2" fill="#fff" stroke="#000" stroke-width="1.8"/>
<rect x="497.84" y="88.21" width="5.2" height="5.2" fill="#fff" stroke="#000" stroke-width="1.8"/>
<rect x="502.76" y="83.76" width="5.2" height="5.2" fill="#fff" stroke="#000" stroke-width="1.8"/>
<rect x="507.67" y="81.53" width="5.2" height="5.2" fill="#fff" stroke="#000" stroke-width="1.8"/>
<rect x="512.58" y="79.31" width="5.2" height="5.2" fill="#fff" stroke="#000" stroke-width="1.8"/>
<rect x="517.49" y="82.28" width="5.2" height="5.2" fill="#fff" stroke="#000" stroke-width="1.8"/>
<rect x="522.40" y="84.50" width="5.2" height="5.2" fill="#fff" stroke="#000" stroke-width="1.8"/>
<rect x="527.32" y="83.02" width="5.2" height="5.2" fill="#fff" stroke="#000" stroke-width="1.8"/>
<rect x="532.23" y="80.05" width="5.2" height="5.2" fill="#fff" stroke="#000" stroke-width="1.8"/>
<rect x="537.14" y="83.02" width="5.2" height="5.2" fill="#fff" stroke="#000" stroke-width="1.8"/>
<rect x="542.05" y="87.47" width="5.2" height="5.2" fill="#fff" stroke="#000" stroke-width="1.8"/>
<rect x="546.96" y="90.44" width="5.2" height="5.2" fill="#fff" stroke="#000" stroke-width="1.8"/>
<rect x="551.88" y="90.44" width="5.2" height="5.2" fill="#fff" stroke="#000" stroke-width="1.8"/>
<rect x="556.79" y="91.92" width="5.2" height="5.2" fill="#fff" stroke="#000" stroke-width="1.8"/>
<rect x="561.70" y="92.66" width="5.2" height="5.2" fill="#fff" stroke="#000" stroke-width="1.8"/>
<rect x="566.61" y="94.15" width="5.2" height="5.2" fill="#fff" stroke="#000" stroke-width="1.8"/>
<rect x="571.52" y="102.31" width="5.2" height="5.2" fill="#fff" stroke="#000" stroke-width="1.8"/>
<rect x="576.44" y="107.50" width="5.2" height="5.2" fill="#fff" stroke="#000" stroke-width="1.8"/>
<rect x="581.35" y="116.41" width="5.2" height="5.2" fill="#fff" stroke="#000" stroke-width="1.8"/>
<rect x="586.26" y="120.86" width="5.2" height="5.2" fill="#fff" stroke="#000" stroke-width="1.8"/>
<rect x="591.17" y="128.28" width="5.2" height="5.2" fill="#fff" stroke="#000" stroke-width="1.8"/>
<rect x="596.08" y="130.51" width="5.2" height="5.2" fill="#fff" stroke="#000" stroke-width="1.8"/>
<rect x="601.00" y="137.18" width="5.2" height="5.2" fill="#fff" stroke="#000" stroke-width="1.8"/>
<rect x="605.91" y="137.93" width="5.2" height="5.2" fill="#fff" stroke="#000" stroke-width="1.8"/>
<rect x="610.82" y="143.12" width="5.2" height="5.2" fill="#fff" stroke="#000" stroke-width="1.8"/>
<rect x="615.73" y="152.02" width="5.2" height="5.2" fill="#fff" stroke="#000" stroke-width="1.8"/>
<rect x="620.64" y="164.64" width="5.2" height="5.2" fill="#fff" stroke="#000" stroke-width="1.8"/>
<rect x="625.56" y="170.57" width="5.2" height="5.2" fill="#fff" stroke="#000" stroke-width="1.8"/>
<rect x="630.47" y="175.03" width="5.2" height="5.2" fill="#fff" stroke="#000" stroke-width="1.8"/>
<rect x="635.38" y="181.70" width="5.2" height="5.2" fill="#fff" stroke="#000" stroke-width="1.8"/>
<rect x="640.29" y="181.70" width="5.2" height="5.2" fill="#fff" stroke="#000" stroke-width="1.8"/>
<rect x="645.20" y="174.28" width="5.2" height="5.2" fill="#fff" stroke="#000" stroke-width="1.8"/>
<rect x="650.12" y="174.28" width="5.2" height="5.2" fill="#fff" stroke="#000" stroke-width="1.8"/>
<rect x="655.03" y="174.28" width="5.2" height="5.2" fill="#fff" stroke="#000" stroke-width="1.8"/>
<rect x="659.94" y="168.35" width="5.2" height="5.2" fill="#fff" stroke="#000" stroke-width="1.8"/>
<rect x="664.85" y="172.80" width="5.2" height="5.2" fill="#fff" stroke="#000" stroke-width="1.8"/>
<rect x="669.76" y="173.54" width="5.2" height="5.2" fill="#fff" stroke="#000" stroke-width="1.8"/>
<rect x="674.68" y="178.74" width="5.2" height="5.2" fill="#fff" stroke="#000" stroke-width="1.8"/>
<rect x="679.59" y="183.93" width="5.2" height="5.2" fill="#fff" stroke="#000" stroke-width="1.8"/>
<rect x="684.50" y="188.38" width="5.2" height="5.2" fill="#fff" stroke="#000" stroke-width="1.8"/>
<rect x="689.41" y="195.06" width="5.2" height="5.2" fill="#fff" stroke="#000" stroke-width="1.8"/>
<rect x="416.9" y="8.5" width="319.4" height="259.7" fill="none" stroke="#3a3a3a" stroke-width="1.3"/>
<path d="M441.50 268.2v-4.5M490.62 268.2v-4.5M539.74 268.2v-4.5M588.86 268.2v-4.5M637.98 268.2v-4.5M687.10 268.2v-4.5M736.22 268.2v-4.5M416.94 268.2v-2.5M466.06 268.2v-2.5M515.18 268.2v-2.5M564.30 268.2v-2.5M613.42 268.2v-2.5M662.54 268.2v-2.5M711.66 268.2v-2.5M416.9 249.60h4.5M416.9 212.50h4.5M416.9 175.40h4.5M416.9 138.30h4.5M416.9 101.20h4.5M416.9 64.10h4.5M416.9 27.00h4.5M416.9 231.05h2.5M416.9 193.95h2.5M416.9 156.85h2.5M416.9 119.75h2.5M416.9 82.65h2.5M416.9 45.55h2.5" stroke="#3a3a3a" stroke-width="1.2" fill="none"/>
<text x="441.50" y="284.8" font-size="14" text-anchor="middle" >0</text>
<text x="490.62" y="284.8" font-size="14" text-anchor="middle" >2</text>
<text x="539.74" y="284.8" font-size="14" text-anchor="middle" >4</text>
<text x="588.86" y="284.8" font-size="14" text-anchor="middle" >6</text>
<text x="637.98" y="284.8" font-size="14" text-anchor="middle" >8</text>
<text x="687.10" y="284.8" font-size="14" text-anchor="middle" >10</text>
<text x="736.22" y="284.8" font-size="14" text-anchor="middle" >12</text>
<text x="411.40" y="254.60" font-size="14" text-anchor="end" >0.0</text>
<text x="411.40" y="217.50" font-size="14" text-anchor="end" >0.5</text>
<text x="411.40" y="180.40" font-size="14" text-anchor="end" >1.0</text>
<text x="411.40" y="143.30" font-size="14" text-anchor="end" >1.5</text>
<text x="411.40" y="106.20" font-size="14" text-anchor="end" >2.0</text>
<text x="411.40" y="69.10" font-size="14" text-anchor="end" >2.5</text>
<text x="411.40" y="32.00" font-size="14" text-anchor="end" >3.0</text>
<line x1="594.4" y1="30.6" x2="623.4" y2="30.6" stroke="#ff5555" stroke-width="1.6"/>
<circle cx="608.9" cy="30.6" r="3.1" fill="#fff" stroke="#ff0000" stroke-width="1.8"/>
<line x1="594.4" y1="46.8" x2="623.4" y2="46.8" stroke="#444" stroke-width="1.4"/>
<rect x="606.3" y="44.199999999999996" width="5.2" height="5.2" fill="#fff" stroke="#000" stroke-width="1.9"/>
<text x="627.0" y="35.3" font-size="13" text-anchor="start" >Left contact line</text>
<text x="627.0" y="51.8" font-size="13" text-anchor="start" >Right contact line</text>
<text x="386.4" y="137.6" font-size="16" text-anchor="middle" font-style="italic" transform="rotate(-90 386.2 137.6)">K</text>
<text x="576.9" y="302.7" font-size="15.5" text-anchor="middle"><tspan font-style="italic">t</tspan> (ms)</text>
<text x="376.5" y="16" font-size="22" font-weight="bold">b</text>
<rect x="42.9" y="351.2" width="109.0" height="254.8" fill="#ebf4e4"/>
<rect x="151.9" y="351.2" width="255.1" height="254.8" fill="#fce9df"/>
<rect x="407" y="351.2" width="62.19999999999999" height="254.8" fill="#dfeaf6"/>
<rect x="469.2" y="351.2" width="267.2" height="254.8" fill="#fef5e2"/>

<defs>
<filter id="m1" x="0" y="0" width="1" height="1" color-interpolation-filters="sRGB">
 <feTurbulence type="fractalNoise" baseFrequency="0.09 0.22" numOctaves="3" seed="5"/>
 <feColorMatrix type="matrix" values="0 0 0 0 0.3  0 0 0 0 0.3  0 0 0 0 0.3  -7 0 0 0 3.4"/>
 <feComposite in2="SourceAlpha" operator="in"/>
</filter>
<filter id="bl07" x="-0.2" y="-0.2" width="1.4" height="1.4"><feGaussianBlur stdDeviation="0.7"/></filter>
<filter id="rough" x="-0.1" y="-0.1" width="1.2" height="1.2">
 <feTurbulence type="fractalNoise" baseFrequency="0.25" numOctaves="2" seed="4" result="t"/>
 <feDisplacementMap in="SourceGraphic" in2="t" scale="6" xChannelSelector="R" yChannelSelector="G"/>
</filter>
<filter id="m3" x="0" y="0" width="1" height="1" color-interpolation-filters="sRGB">
 <feTurbulence type="fractalNoise" baseFrequency="0.28 0.33" numOctaves="3" seed="11"/>
 <feColorMatrix type="matrix" values="0 0 0 0 0.2  0 0 0 0 0.2  0 0 0 0 0.2  -12 0 0 0 6.25"/>
 <feComposite in2="SourceAlpha" operator="in"/>
</filter>
<filter id="m2" x="0" y="0" width="1" height="1" color-interpolation-filters="sRGB">
 <feTurbulence type="fractalNoise" baseFrequency="0.25 0.2" numOctaves="3" seed="2"/>
 <feColorMatrix type="matrix" values="0 0 0 0 0.3  0 0 0 0 0.3  0 0 0 0 0.3  -9 0 0 0 4.1"/>
 <feComposite in2="SourceAlpha" operator="in"/>
</filter>
<filter id="bgn" x="0" y="0" width="1" height="1" color-interpolation-filters="sRGB">
 <feTurbulence type="fractalNoise" baseFrequency="0.5" numOctaves="1" seed="9"/>
 <feColorMatrix type="matrix" values="0 0 0 0 1  0 0 0 0 1  0 0 0 0 1  3 0 0 0 -1.75"/>
 <feComposite in2="SourceAlpha" operator="in"/>
</filter>
<linearGradient id="p1g" x1="0" y1="0" x2="1" y2="1"><stop offset="0" stop-color="#777"/><stop offset="0.5" stop-color="#4a4a4a"/><stop offset="1" stop-color="#3a3a3a"/></linearGradient>
</defs>
<rect x="63.5" y="510.3" width="81.2" height="90.6" fill="url(#p1g)"/>
<rect x="63.5" y="510.3" width="81.2" height="90.6" fill="#000" filter="url(#bgn)" opacity="0.5"/>
<g filter="url(#rough)"><path id="b1" d="M80.2 511.2L91.1 510.4L103.5 512L116 512.8L123.8 519L125.3 525.2L133.1 528.3L137.8 536.1L140.9 545.4L139.3 556.3L140.9 561L137 571.9L133.1 578.1L126.9 585.9L122.2 592.1L111.3 598.3L100.4 599.9L88 598.3L83.3 592.1L75.6 585.9L66 580L64.5 570L64.5 556L65 544L67 531.4L70.9 523.7L75.6 517.4Z" fill="#f4f4f4"/>
<path d="M80.2 511.2L91.1 510.4L103.5 512L116 512.8L123.8 519L125.3 525.2L133.1 528.3L137.8 536.1L140.9 545.4L139.3 556.3L140.9 561L137 571.9L133.1 578.1L126.9 585.9L122.2 592.1L111.3 598.3L100.4 599.9L88 598.3L83.3 592.1L75.6 585.9L66 580L64.5 570L64.5 556L65 544L67 531.4L70.9 523.7L75.6 517.4Z" fill="#000" filter="url(#m1)"/></g>
<rect x="248.5" y="510.6" width="75.6" height="89.4" fill="#272727"/>
<rect x="248.5" y="510.6" width="75.6" height="89.4" fill="#000" filter="url(#bgn)" opacity="0.12"/>
<g filter="url(#bl07)"><path d="M268 522 L272 540 L274 560 L272 580 L270 596 L276 598 L277 575 L278 550 L274 530Z" fill="#121212"/>
<path id="st2" d="M270.4 520.5L271.1 524L274.6 535.2L277.4 545L278.1 556.2L277.4 566L276 574.4L273.9 582.8L273.9 589.8L278.8 595.4L285.8 594L288.6 588.4L291.4 580L294.2 573L293.5 564.6L292.1 556.2L292.8 546.4L291.4 536.6L287.2 525.4L281.6 517L276 516.5Z" fill="#d6d6d6"/>
<path d="M270.4 520.5L271.1 524L274.6 535.2L277.4 545L278.1 556.2L277.4 566L276 574.4L273.9 582.8L273.9 589.8L278.8 595.4L285.8 594L288.6 588.4L291.4 580L294.2 573L293.5 564.6L292.1 556.2L292.8 546.4L291.4 536.6L287.2 525.4L281.6 517L276 516.5Z" fill="#000" filter="url(#m2)"/>
<path d="M273 522 C275 519 280 518 283 521 L281 526 L276 527Z" fill="#555"/></g>
<g fill="#bbb"><circle cx="257" cy="530" r="0.9"/><circle cx="318" cy="560" r="0.9"/><circle cx="257" cy="586" r="0.8"/><circle cx="273" cy="565" r="0.8"/><circle cx="313" cy="570" r="0.7"/><circle cx="301" cy="520" r="0.7"/><circle cx="255" cy="518" r="0.7"/></g>
<rect x="489.4" y="405.3" width="102.2" height="89.3" fill="#2c2c2c"/>
<path d="M527.5 408.8L539.2 409.6L549.4 409.6L556.7 414.7L564 420.5L569.9 428.6L574.3 436.6L577.2 445.4L575.7 454.2L575 461.5L574.3 467.3L569.9 473.2L564 477.6L558.2 482.7L550.9 487.1L543.6 490L536.2 490.7L527.5 490L517.2 486.3L509.9 480.5L504.1 473.2L498.2 465.9L496 457.1L496 446.9L496.8 439.5L501.2 432.2L507 423.5L514.3 416.2L520.2 411Z" fill="#d4d4d4" stroke="#111" stroke-width="0.8"/>
<filter id="bl4" x="-0.5" y="-0.5" width="2" height="2"><feGaussianBlur stdDeviation="1.5"/></filter>
<mask id="mk3" maskUnits="userSpaceOnUse" x="480" y="400" width="120" height="100"><g filter="url(#bl4)"><ellipse cx="534" cy="442" rx="22" ry="13" fill="#fff"/><ellipse cx="558" cy="440" rx="12" ry="10" fill="#fff"/><ellipse cx="503" cy="445" rx="7" ry="7" fill="#fff"/><ellipse cx="524" cy="470" rx="24" ry="9" fill="#fff"/><ellipse cx="558" cy="465" rx="12" ry="8" fill="#fff"/><ellipse cx="561" cy="428" rx="8" ry="7" fill="#fff"/><ellipse cx="540" cy="482" rx="14" ry="4" fill="#fff"/></g></mask>
<g clip-path="url(#c3)"><rect x="489" y="405" width="103" height="90" fill="#000" filter="url(#m3)" mask="url(#mk3)"/></g>
<clipPath id="c3"><path d="M527.5 408.8L539.2 409.6L549.4 409.6L556.7 414.7L564 420.5L569.9 428.6L574.3 436.6L577.2 445.4L575.7 454.2L575 461.5L574.3 467.3L569.9 473.2L564 477.6L558.2 482.7L550.9 487.1L543.6 490L536.2 490.7L527.5 490L517.2 486.3L509.9 480.5L504.1 473.2L498.2 465.9L496 457.1L496 446.9L496.8 439.5L501.2 432.2L507 423.5L514.3 416.2L520.2 411Z"/></clipPath>

<line x1="42.9" y1="504.4" x2="736.4" y2="504.4" stroke="#111" stroke-width="1.3" stroke-dasharray="9.6 4"/>
<path d="M105.94 498.62V502.00M101.44 498.62h9M101.44 502.00h9M137.46 500.31V503.70M132.96 500.31h9M132.96 503.70h9M168.98 426.07V483.70M164.48 426.07h9M164.48 483.70h9M200.50 426.41V490.82M196.00 426.41h9M196.00 490.82h9M232.02 462.00V482.34M227.52 462.00h9M227.52 482.34h9M263.54 451.83V483.02M259.04 451.83h9M259.04 483.02h9M295.06 466.07V486.41M290.56 466.07h9M290.56 486.41h9M326.58 458.61V485.73M322.08 458.61h9M322.08 485.73h9M358.10 476.24V498.62M353.60 476.24h9M353.60 498.62h9M389.62 487.77V510.82M385.12 487.77h9M385.12 510.82h9M421.14 510.48V517.26M416.64 510.48h9M416.64 517.26h9M452.66 519.63V529.80M448.16 519.63h9M448.16 529.80h9M484.18 519.97V526.75M479.68 519.97h9M479.68 526.75h9M515.70 527.09V542.01M511.20 527.09h9M511.20 542.01h9M547.22 532.18V538.96M542.72 532.18h9M542.72 538.96h9M578.74 530.48V537.26M574.24 530.48h9M574.24 537.26h9M610.26 513.53V525.06M605.76 513.53h9M605.76 525.06h9M641.78 514.89V518.28M637.28 514.89h9M637.28 518.28h9M673.30 521.67V552.18M668.80 521.67h9M668.80 552.18h9" stroke="#ff0000" stroke-width="1.3" fill="none"/>
<rect x="101.44" y="495.81" width="9" height="9" fill="#ff0000"/>
<rect x="132.96" y="497.50" width="9" height="9" fill="#ff0000"/>
<rect x="164.48" y="450.38" width="9" height="9" fill="#ff0000"/>
<rect x="196.00" y="454.11" width="9" height="9" fill="#ff0000"/>
<rect x="227.52" y="467.67" width="9" height="9" fill="#ff0000"/>
<rect x="259.04" y="462.93" width="9" height="9" fill="#ff0000"/>
<rect x="290.56" y="471.74" width="9" height="9" fill="#ff0000"/>
<rect x="322.08" y="467.67" width="9" height="9" fill="#ff0000"/>
<rect x="353.60" y="482.93" width="9" height="9" fill="#ff0000"/>
<rect x="385.12" y="494.79" width="9" height="9" fill="#ff0000"/>
<rect x="416.64" y="509.37" width="9" height="9" fill="#ff0000"/>
<rect x="448.16" y="520.22" width="9" height="9" fill="#ff0000"/>
<rect x="479.68" y="518.86" width="9" height="9" fill="#ff0000"/>
<rect x="511.20" y="530.05" width="9" height="9" fill="#ff0000"/>
<rect x="542.72" y="531.07" width="9" height="9" fill="#ff0000"/>
<rect x="574.24" y="529.37" width="9" height="9" fill="#ff0000"/>
<rect x="605.76" y="514.79" width="9" height="9" fill="#ff0000"/>
<rect x="637.28" y="512.08" width="9" height="9" fill="#ff0000"/>
<rect x="668.80" y="532.42" width="9" height="9" fill="#ff0000"/>
<path d="M105.94 485.06V488.44M101.44 485.06h9M101.44 488.44h9M137.46 478.61V488.78M132.96 478.61h9M132.96 488.78h9M168.98 469.80V475.22M164.48 469.80h9M164.48 475.22h9M200.50 427.76V478.61M196.00 427.76h9M196.00 478.61h9M232.02 448.10V479.97M227.52 448.10h9M227.52 479.97h9M263.54 434.88V444.38M259.04 434.88h9M259.04 444.38h9M295.06 417.25V460.65M290.56 417.25h9M290.56 460.65h9M326.58 455.22V471.50M322.08 455.22h9M322.08 471.50h9M358.10 456.58V484.38M353.60 456.58h9M353.60 484.38h9M389.62 478.61V500.99M385.12 478.61h9M385.12 500.99h9M421.14 510.48V517.26M416.64 510.48h9M416.64 517.26h9M452.66 510.82V524.38M448.16 510.82h9M448.16 524.38h9M484.18 517.60V537.94M479.68 517.60h9M479.68 537.94h9M515.70 547.77V557.94M511.20 547.77h9M511.20 557.94h9M547.22 543.36V560.99M542.72 543.36h9M542.72 560.99h9M578.74 543.36V565.74M574.24 543.36h9M574.24 565.74h9M610.26 529.46V538.28M605.76 529.46h9M605.76 538.28h9M641.78 537.94V555.57M637.28 537.94h9M637.28 555.57h9M673.30 525.06V545.40M668.80 525.06h9M668.80 545.40h9" stroke="#000000" stroke-width="1.3" fill="none"/>
<circle cx="105.94" cy="486.75" r="5.2" fill="#000000"/>
<circle cx="137.46" cy="483.70" r="5.2" fill="#000000"/>
<circle cx="168.98" cy="472.51" r="5.2" fill="#000000"/>
<circle cx="200.50" cy="453.19" r="5.2" fill="#000000"/>
<circle cx="232.02" cy="464.04" r="5.2" fill="#000000"/>
<circle cx="263.54" cy="439.63" r="5.2" fill="#000000"/>
<circle cx="295.06" cy="438.95" r="5.2" fill="#000000"/>
<circle cx="326.58" cy="463.36" r="5.2" fill="#000000"/>
<circle cx="358.10" cy="470.48" r="5.2" fill="#000000"/>
<circle cx="389.62" cy="489.80" r="5.2" fill="#000000"/>
<circle cx="421.14" cy="513.87" r="5.2" fill="#000000"/>
<circle cx="452.66" cy="517.60" r="5.2" fill="#000000"/>
<circle cx="484.18" cy="527.77" r="5.2" fill="#000000"/>
<circle cx="515.70" cy="552.86" r="5.2" fill="#000000"/>
<circle cx="547.22" cy="552.18" r="5.2" fill="#000000"/>
<circle cx="578.74" cy="554.55" r="5.2" fill="#000000"/>
<circle cx="610.26" cy="533.87" r="5.2" fill="#000000"/>
<circle cx="641.78" cy="546.75" r="5.2" fill="#000000"/>
<circle cx="673.30" cy="535.23" r="5.2" fill="#000000"/>
<path d="M105.94 479.97V486.75M101.44 479.97h9M101.44 486.75h9M137.46 485.06V495.22M132.96 485.06h9M132.96 495.22h9M168.98 421.66V441.32M164.48 421.66h9M164.48 441.32h9M200.50 406.07V420.98M196.00 406.07h9M196.00 420.98h9M232.02 400.30V478.27M227.52 400.30h9M227.52 478.27h9M263.54 397.93V450.14M259.04 397.93h9M259.04 450.14h9M295.06 439.97V453.53M290.56 439.97h9M290.56 453.53h9M326.58 420.64V427.42M322.08 420.64h9M322.08 427.42h9M358.10 437.93V463.02M353.60 437.93h9M353.60 463.02h9M389.62 459.63V486.75M385.12 459.63h9M385.12 486.75h9M421.14 479.63V499.97M416.64 479.63h9M416.64 499.97h9M452.66 507.77V514.55M448.16 507.77h9M448.16 514.55h9M484.18 537.60V544.38M479.68 537.60h9M479.68 544.38h9M515.70 552.18V562.35M511.20 552.18h9M511.20 562.35h9M547.22 556.58V563.36M542.72 556.58h9M542.72 563.36h9M578.74 567.09V574.55M574.24 567.09h9M574.24 574.55h9M610.26 548.11V561.67M605.76 548.11h9M605.76 561.67h9M641.78 550.14V556.92M637.28 550.14h9M637.28 556.92h9M673.30 516.24V543.36M668.80 516.24h9M668.80 543.36h9" stroke="#0000ff" stroke-width="1.3" fill="none"/>
<path d="M105.94 477.76L111.94 488.26H99.94Z" fill="#0000ff"/>
<path d="M137.46 484.54L143.46 495.04H131.46Z" fill="#0000ff"/>
<path d="M168.98 425.89L174.98 436.39H162.98Z" fill="#0000ff"/>
<path d="M200.50 407.93L206.50 418.43H194.50Z" fill="#0000ff"/>
<path d="M232.02 433.69L238.02 444.19H226.02Z" fill="#0000ff"/>
<path d="M263.54 418.43L269.54 428.93H257.54Z" fill="#0000ff"/>
<path d="M295.06 441.15L301.06 451.65H289.06Z" fill="#0000ff"/>
<path d="M326.58 418.43L332.58 428.93H320.58Z" fill="#0000ff"/>
<path d="M358.10 444.88L364.10 455.38H352.10Z" fill="#0000ff"/>
<path d="M389.62 467.59L395.62 478.09H383.62Z" fill="#0000ff"/>
<path d="M421.14 484.20L427.14 494.70H415.14Z" fill="#0000ff"/>
<path d="M452.66 505.56L458.66 516.06H446.66Z" fill="#0000ff"/>
<path d="M484.18 535.39L490.18 545.89H478.18Z" fill="#0000ff"/>
<path d="M515.70 551.66L521.70 562.16H509.70Z" fill="#0000ff"/>
<path d="M547.22 554.37L553.22 564.87H541.22Z" fill="#0000ff"/>
<path d="M578.74 565.22L584.74 575.72H572.74Z" fill="#0000ff"/>
<path d="M610.26 549.29L616.26 559.79H604.26Z" fill="#0000ff"/>
<path d="M641.78 547.93L647.78 558.43H635.78Z" fill="#0000ff"/>
<path d="M673.30 524.20L679.30 534.70H667.30Z" fill="#0000ff"/>
<path d="M105.94 484.72V491.50M101.44 484.72h9M101.44 491.50h9M137.46 495.56V502.34M132.96 495.56h9M132.96 502.34h9M168.98 417.25V424.03M164.48 417.25h9M164.48 424.03h9M200.50 382.68V465.39M196.00 382.68h9M196.00 465.39h9M232.02 406.41V445.05M227.52 406.41h9M227.52 445.05h9M263.54 398.61V429.12M259.04 398.61h9M259.04 429.12h9M295.06 387.42V414.54M290.56 387.42h9M290.56 414.54h9M326.58 392.17V432.85M322.08 392.17h9M322.08 432.85h9M358.10 428.44V443.36M353.60 428.44h9M353.60 443.36h9M389.62 450.48V491.16M385.12 450.48h9M385.12 491.16h9M421.14 477.60V484.38M416.64 477.60h9M416.64 484.38h9M452.66 495.56V513.87M448.16 495.56h9M448.16 513.87h9M484.18 514.55V555.23M479.68 514.55h9M479.68 555.23h9M515.70 537.26V550.82M511.20 537.26h9M511.20 550.82h9M547.22 551.16V564.72M542.72 551.16h9M542.72 564.72h9M578.74 560.99V591.50M574.24 560.99h9M574.24 591.50h9M610.26 548.45V575.57M605.76 548.45h9M605.76 575.57h9M641.78 564.72V571.50M637.28 564.72h9M637.28 571.50h9M673.30 556.25V569.80M668.80 556.25h9M668.80 569.80h9" stroke="#e8148c" stroke-width="1.3" fill="none"/>
<path d="M105.94 493.71L111.94 483.21H99.94Z" fill="#e8148c"/>
<path d="M137.46 504.55L143.46 494.05H131.46Z" fill="#e8148c"/>
<path d="M168.98 426.25L174.98 415.75H162.98Z" fill="#e8148c"/>
<path d="M200.50 429.63L206.50 419.13H194.50Z" fill="#e8148c"/>
<path d="M232.02 431.33L238.02 420.83H226.02Z" fill="#e8148c"/>
<path d="M263.54 419.47L269.54 408.97H257.54Z" fill="#e8148c"/>
<path d="M295.06 406.58L301.06 396.08H289.06Z" fill="#e8148c"/>
<path d="M326.58 418.11L332.58 407.61H320.58Z" fill="#e8148c"/>
<path d="M358.10 441.50L364.10 431.00H352.10Z" fill="#e8148c"/>
<path d="M389.62 476.42L395.62 465.92H383.62Z" fill="#e8148c"/>
<path d="M421.14 486.59L427.14 476.09H415.14Z" fill="#e8148c"/>
<path d="M452.66 510.32L458.66 499.82H446.66Z" fill="#e8148c"/>
<path d="M484.18 540.49L490.18 529.99H478.18Z" fill="#e8148c"/>
<path d="M515.70 549.64L521.70 539.14H509.70Z" fill="#e8148c"/>
<path d="M547.22 563.54L553.22 553.04H541.22Z" fill="#e8148c"/>
<path d="M578.74 581.85L584.74 571.35H572.74Z" fill="#e8148c"/>
<path d="M610.26 567.61L616.26 557.11H604.26Z" fill="#e8148c"/>
<path d="M641.78 573.71L647.78 563.21H635.78Z" fill="#e8148c"/>
<path d="M673.30 568.62L679.30 558.12H667.30Z" fill="#e8148c"/>
<rect x="42.9" y="351.2" width="693.5" height="254.8" fill="none" stroke="#1a1a1a" stroke-width="1.3"/>
<path d="M105.94 606.0v-5M232.02 606.0v-5M358.10 606.0v-5M484.18 606.0v-5M610.26 606.0v-5M736.34 606.0v-5M168.98 606.0v-2.8M295.06 606.0v-2.8M421.14 606.0v-2.8M547.22 606.0v-2.8M673.30 606.0v-2.8M42.9 605.40h5M42.9 571.50h5M42.9 537.60h5M42.9 503.70h5M42.9 469.80h5M42.9 435.90h5M42.9 402.00h5M42.9 368.10h5M42.9 588.45h2.8M42.9 554.55h2.8M42.9 520.65h2.8M42.9 486.75h2.8M42.9 452.85h2.8M42.9 418.95h2.8M42.9 385.05h2.8" stroke="#1a1a1a" stroke-width="1.2" fill="none"/>
<text x="105.94" y="622.3" font-size="13" text-anchor="middle" >200</text>
<text x="232.02" y="622.3" font-size="13" text-anchor="middle" >240</text>
<text x="358.10" y="622.3" font-size="13" text-anchor="middle" >280</text>
<text x="484.18" y="622.3" font-size="13" text-anchor="middle" >320</text>
<text x="610.26" y="622.3" font-size="13" text-anchor="middle" >360</text>
<text x="736.34" y="622.3" font-size="13" text-anchor="middle" >400</text>
<text x="36.90" y="610.10" font-size="13" text-anchor="end" >-3</text>
<text x="36.90" y="576.20" font-size="13" text-anchor="end" >-2</text>
<text x="36.90" y="542.30" font-size="13" text-anchor="end" >-1</text>
<text x="36.90" y="508.40" font-size="13" text-anchor="end" >0</text>
<text x="36.90" y="474.50" font-size="13" text-anchor="end" >1</text>
<text x="36.90" y="440.60" font-size="13" text-anchor="end" >2</text>
<text x="36.90" y="406.70" font-size="13" text-anchor="end" >3</text>
<text x="36.90" y="372.80" font-size="13" text-anchor="end" >4</text>
<rect x="636" y="364.1" width="9" height="9" fill="#ff0000"/>
<circle cx="640.5" cy="384.7" r="5.2" fill="#000"/>
<path d="M640.5 394.1L646.5 404.8H634.5Z" fill="#0000ff"/>
<path d="M640.5 423.5L646.5 412.8H634.5Z" fill="#e8148c"/>
<text x="658.6" y="373.3" font-size="13" text-anchor="start" >We = 4.1</text>
<text x="658.6" y="389.40000000000003" font-size="13" text-anchor="start" >We = 7.3</text>
<text x="658.6" y="405.5" font-size="13" text-anchor="start" >We = 13.7</text>
<text x="658.6" y="421.6" font-size="13" text-anchor="start" >We = 16.9</text>
<text x="47.6" y="342.7" font-size="16.8" text-anchor="start" >Contact boiling</text>
<text x="224.7" y="342.6" font-size="16.8" text-anchor="start" >Transition boiling</text>
<text x="568.9" y="342.9" font-size="16.8" text-anchor="start" >Film boiling</text>
<text x="390.5" y="639.8" font-size="13.5" text-anchor="middle"><tspan font-style="italic">T</tspan> (°C)</text>
<text transform="translate(19.6 479.0) rotate(-90)" font-size="14" text-anchor="middle">Δ<tspan font-style="italic">l</tspan> (mm)</text>
<text x="1.5" y="328.5" font-size="22" font-weight="bold">c</text>
</svg>
</body></html>
